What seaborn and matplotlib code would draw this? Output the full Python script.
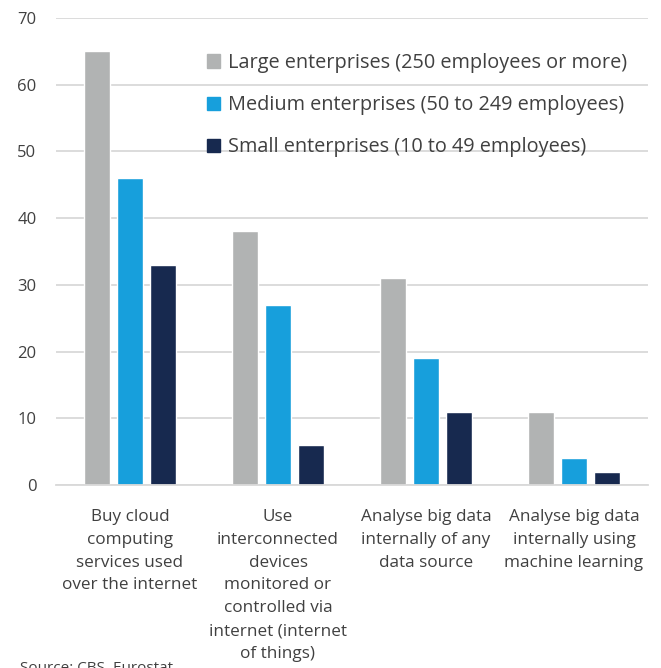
import matplotlib
matplotlib.use("Agg")
import matplotlib.pyplot as plt
import seaborn as sns
import pandas as pd

categories = [
    "Buy cloud\ncomputing\nservices used\nover the internet",
    "Use\ninterconnected\ndevices\nmonitored or\ncontrolled via\ninternet (internet\nof things)",
    "Analyse big data\ninternally of any\ndata source",
    "Analyse big data\ninternally using\nmachine learning",
]
series = [
    "Large enterprises (250 employees or more)",
    "Medium enterprises (50 to 249 employees)",
    "Small enterprises (10 to 49 employees)",
]
large = [65, 38, 31, 11]
medium = [46, 27, 19, 4]
small = [33, 6, 11, 2]
colors = ["#B1B3B3", "#179FDC", "#17294F"]
yticks = [0, 10, 20, 30, 40, 50, 60, 70]

rows = []
for name, vals in zip(series, [large, medium, small]):
    for cat, v in zip(categories, vals):
        rows.append({"category": cat, "size": name, "value": v})
df = pd.DataFrame(rows)

sns.set_theme(style="white")
plt.rcParams["font.family"] = ["Open Sans", "DejaVu Sans"]
text_color = "#404040"

fig = plt.figure(figsize=(6.61, 6.68), dpi=100)
ax = fig.add_axes([56 / 661, 1 - 485 / 668, (648 - 56) / 661, 467 / 668])

sns.barplot(data=df, x="category", y="value", hue="size", hue_order=series,
            palette=colors, order=categories, width=0.66, gap=0.2,
            ax=ax, legend=False, saturation=1)

ax.set_ylim(0, 70)
ax.set_xlim(-0.5, 3.5)
ax.set_yticks(yticks)
ax.yaxis.grid(True, color="#D9D9D9", linewidth=1.3)
ax.set_axisbelow(True)
for s in ["top", "right", "left"]:
    ax.spines[s].set_visible(False)
ax.spines["bottom"].set_color("#D9D9D9")
ax.spines["bottom"].set_linewidth(1.3)
ax.tick_params(axis="y", length=0, pad=14, labelsize=12, labelcolor=text_color)
ax.tick_params(axis="x", length=0, pad=17, labelsize=12.3, labelcolor=text_color)
for lbl in ax.get_xticklabels():
    lbl.set_linespacing(1.58)
    lbl.set_ha("center")
ax.set_xlabel("")
ax.set_ylabel("")

handles = [plt.Rectangle((0, 0), 1, 1, color=c) for c in colors]
fig.legend(handles, series, loc="upper left",
           bbox_to_anchor=(197 / 661, 1 - 43 / 668), frameon=False,
           fontsize=14.3, handlelength=0.65, handleheight=0.65,
           handletextpad=0.4, labelspacing=1.12, borderpad=0,
           labelcolor=text_color)

fig.text(20 / 661, 1 - 661 / 668, "Source: CBS, Eurostat", fontsize=11,
         color=text_color, va="top")

fig.savefig("out.png", dpi=100)
